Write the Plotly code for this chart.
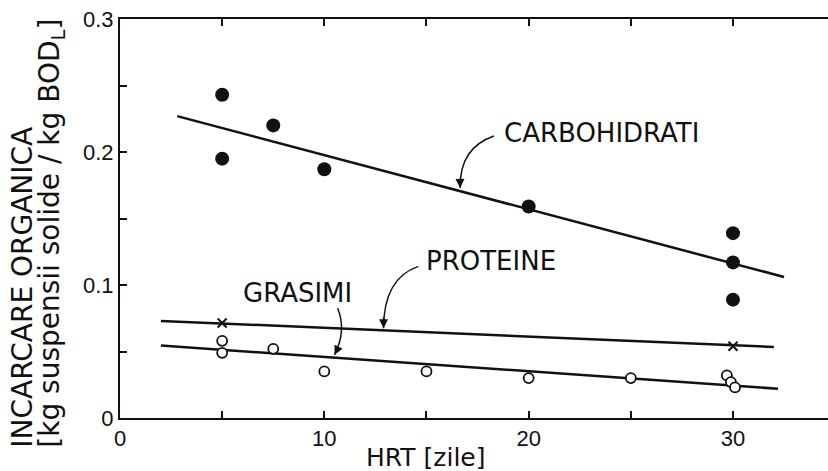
import plotly.graph_objects as go

# ---- data ----
carb_x = [5, 5, 7.5, 10, 20, 30, 30, 30]
carb_y = [0.243, 0.195, 0.220, 0.187, 0.159, 0.139, 0.117, 0.089]

prot_x = [5, 30]
prot_y = [0.0714, 0.054]

gras_x = [5, 5, 7.5, 10, 15, 20, 25, 29.7, 29.9, 30.1]
gras_y = [0.058, 0.049, 0.052, 0.035, 0.035, 0.030, 0.030, 0.032, 0.027, 0.023]

# fitted lines (end points)
carb_line_x = [2.8, 32.5]
carb_line_y = [0.227, 0.106]
prot_line_x = [2.0, 32.0]
prot_line_y = [0.073, 0.0534]
gras_line_x = [2.0, 32.2]
gras_line_y = [0.0545, 0.022]

x_ticks = [0, 5, 10, 15, 20, 25, 30]
x_ticktext = ["0", "", "10", "", "20", "", "30"]
y_ticks = [0, 0.05, 0.1, 0.15, 0.2, 0.25, 0.3]
y_ticktext = ["0", "", "0.1", "", "0.2", "", "0.3"]

labels = ["CARBOHIDRATI", "PROTEINE", "GRASIMI"]
label_pos = [(18.7, 0.214), (14.9, 0.118), (5.9, 0.094)]
# curved leaders: start, control, end (data coords)
leaders = [
    ((18.3, 0.212), (16.6, 0.203), (16.65, 0.173)),
    ((14.6, 0.114), (12.9, 0.105), (12.9, 0.0675)),
    ((10.65, 0.0825), (11.1, 0.066), (10.5, 0.0475)),
]

INK = "#111111"
fig = go.Figure()

for lx, ly in [(carb_line_x, carb_line_y), (prot_line_x, prot_line_y), (gras_line_x, gras_line_y)]:
    fig.add_trace(go.Scatter(x=lx, y=ly, mode="lines",
                             line=dict(color=INK, width=2.5), showlegend=False, hoverinfo="skip"))

fig.add_trace(go.Scatter(x=carb_x, y=carb_y, mode="markers",
                         marker=dict(symbol="circle", size=14, color=INK), showlegend=False))
fig.add_trace(go.Scatter(x=prot_x, y=prot_y, mode="markers",
                         marker=dict(symbol="x-thin", size=9, color=INK,
                                     line=dict(color=INK, width=2)), showlegend=False))
fig.add_trace(go.Scatter(x=gras_x, y=gras_y, mode="markers",
                         marker=dict(symbol="circle", size=10, color="white",
                                     line=dict(color=INK, width=1.8)), showlegend=False))

shapes = []
annotations = []
for (s, c, e) in leaders:
    shapes.append(dict(type="path", xref="x", yref="y",
                       path=f"M {s[0]},{s[1]} Q {c[0]},{c[1]} {e[0]},{e[1]}",
                       line=dict(color=INK, width=1.5)))
    annotations.append(dict(x=e[0], y=e[1], ax=e[0] + (c[0] - e[0]) * 0.25,
                            ay=e[1] + (c[1] - e[1]) * 0.25, xref="x", yref="y",
                            axref="x", ayref="y", text="", showarrow=True,
                            arrowhead=2, arrowsize=1.2, arrowwidth=1.5, arrowcolor=INK))

for txt, (tx, ty) in zip(labels, label_pos):
    annotations.append(dict(x=tx, y=ty, xref="x", yref="y", text=txt, showarrow=False,
                            xanchor="left", yanchor="middle",
                            font=dict(family="DejaVu Sans", size=26, color=INK)))

annotations.append(dict(x=-0.138, y=-0.08, xref="paper", yref="paper",
                        text="INCARCARE ORGANICA", textangle=-90, showarrow=False,
                        xanchor="center", yanchor="bottom",
                        font=dict(family="DejaVu Sans", size=28, color=INK)))
annotations.append(dict(x=-0.097, y=-0.08, xref="paper", yref="paper",
                        text="[kg suspensii solide / kg BOD<sub>L</sub>]", textangle=-90,
                        showarrow=False, xanchor="center", yanchor="bottom",
                        font=dict(family="DejaVu Sans", size=28, color=INK)))
annotations.append(dict(x=0.431, y=-0.098, xref="paper", yref="paper",
                        text="HRT [zile]", showarrow=False,
                        xanchor="center", yanchor="middle",
                        font=dict(family="DejaVu Sans", size=25, color=INK)))

fig.update_layout(
    width=828, height=471,
    margin=dict(l=120, r=0, t=19, b=53),
    paper_bgcolor="white", plot_bgcolor="white",
    shapes=shapes, annotations=annotations,
    xaxis=dict(range=[0, 34.65], tickvals=x_ticks, ticktext=x_ticktext,
               ticks="inside", ticklen=7, tickwidth=1.5, tickcolor=INK,
               showline=True, linecolor=INK, linewidth=2, mirror="allticks",
               showgrid=False, zeroline=False,
               tickfont=dict(family="Liberation Sans", size=22, color=INK)),
    yaxis=dict(range=[0, 0.3], tickvals=y_ticks, ticktext=y_ticktext,
               ticks="inside", ticklen=7, tickwidth=1.5, tickcolor=INK,
               showline=True, linecolor=INK, linewidth=2, mirror=False,
               showgrid=False, zeroline=False,
               tickfont=dict(family="Liberation Sans", size=22, color=INK)),
)

fig.write_html("out.html")
